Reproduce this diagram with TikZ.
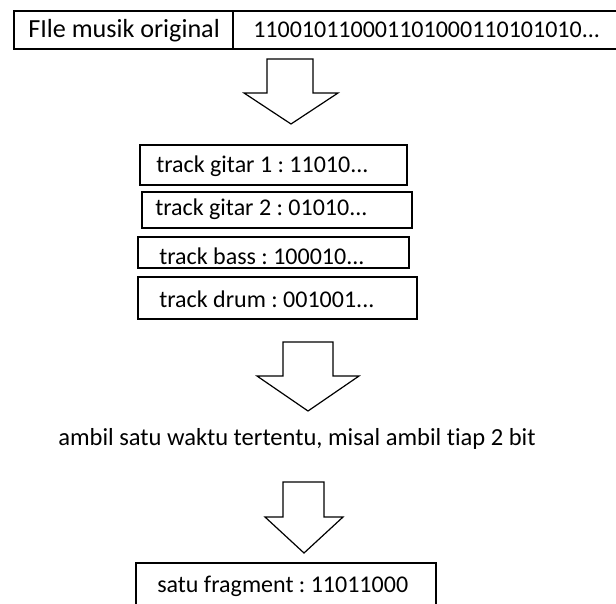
\documentclass[tikz,border=0pt]{standalone}
\usepackage{fontspec}
\setmainfont[Ligatures={NoCommon,NoContextual}]{Carlito}
\usepackage{tikz}
\frenchspacing

\tikzset{
  kotak/.style={draw=black, line width=1pt},
  teks/.style={anchor=base west, inner sep=0pt, font=\fontsize{18}{20}\selectfont},
  panah/.style={draw=black, line width=0.9pt, fill=white, line join=miter}
}

\begin{document}
\begin{tikzpicture}[x=0.75pt, y=-0.75pt]
  \useasboundingbox (0,0) rectangle (616,603);

  % file asli
  \draw[kotak] (620,11) -- (14,11) -- (14,49) -- (620,49);
  \draw[kotak] (233,11) -- (233,49);
  \node[teks, font=\fontsize{19.6}{21}\selectfont] (judul) at (28,37) {FIle musik original};
  \node[teks] (biner) at (253,37) {110010110001101000110101010...};

  \draw[panah] (267,59) -- (313,59) -- (313,93) -- (338,93) -- (291,124)
    -- (244,93) -- (267,93) -- cycle;

  % track
  \draw[kotak] (140,145) rectangle (407,185);
  \node[teks] (gitar1) at (156,172) {track gitar 1 : 11010...};
  \draw[kotak] (142,192) rectangle (412,228);
  \node[teks] (gitar2) at (155,215) {track gitar 2 : 01010...};
  \draw[kotak] (138,237) rectangle (409,268);
  \node[teks] (bass) at (159,264) {track bass : 100010...};
  \draw[kotak] (138,277) rectangle (417,319);
  \node[teks] (drum) at (159,307) {track drum : 001001...};

  \draw[panah] (283,342) -- (333,342) -- (333,376) -- (359,376) -- (308,411)
    -- (257,376) -- (283,376) -- cycle;

  \node[teks, font=\fontsize{18.4}{20}\selectfont] (ambil) at (58,445) {ambil satu waktu tertentu, misal ambil tiap 2 bit};

  \draw[panah] (283,482) -- (324,482) -- (324,517) -- (343,517) -- (304,553)
    -- (265,517) -- (283,517) -- cycle;

  % hasil
  \draw[kotak] (136,610) -- (136,563) -- (436,563) -- (436,610);
  \node[teks] (fragmen) at (157,592) {satu fragment : 11011000};
\end{tikzpicture}
\end{document}
